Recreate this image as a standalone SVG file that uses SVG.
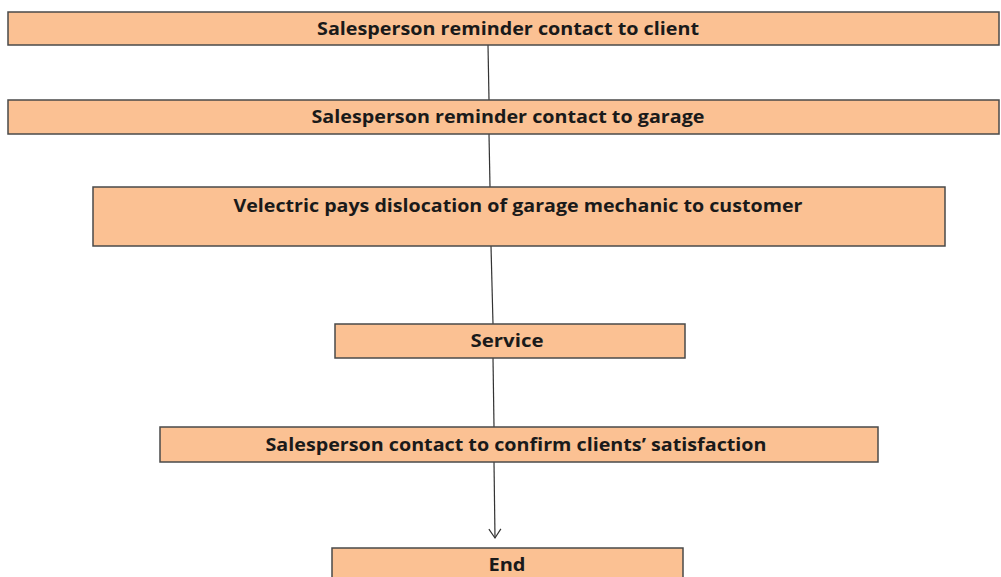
<svg xmlns="http://www.w3.org/2000/svg" width="1001" height="577" viewBox="0 0 1001 577">
  <style>
    .box { fill: #fbc193; stroke: #4a4a4a; stroke-width: 1.5; }
    .lbl { font-family: "Open Sans", "Liberation Sans", sans-serif; font-weight: bold; font-size: 17px; fill: #1a1a1a; text-anchor: middle; }
    .conn { stroke: #333; stroke-width: 1.2; fill: none; }
  </style>
  <defs>
    <marker id="arrow" markerWidth="12" markerHeight="14" refX="10" refY="7" orient="auto" markerUnits="userSpaceOnUse" viewBox="0 0 12 14">
      <path d="M1,1 L10,7 L1,13" fill="none" stroke="#333" stroke-width="1.2"/>
    </marker>
  </defs>
  <rect width="1001" height="577" fill="#ffffff"/>

  <g id="connectors">
    <line class="conn" x1="488" y1="45" x2="489" y2="100"/>
    <line class="conn" x1="489" y1="134" x2="490" y2="187"/>
    <line class="conn" x1="491" y1="246" x2="493" y2="324"/>
    <line class="conn" x1="493" y1="358" x2="494" y2="427"/>
    <line class="conn" x1="494" y1="462" x2="495" y2="538" marker-end="url(#arrow)"/>
  </g>

  <g id="node-client">
    <rect class="box" x="8" y="12" width="991" height="33"/>
    <text class="lbl" x="508" y="35" textLength="382" lengthAdjust="spacingAndGlyphs">Salesperson reminder contact to client</text>
  </g>
  <g id="node-garage">
    <rect class="box" x="8" y="100" width="991" height="34"/>
    <text class="lbl" x="508" y="123" textLength="393" lengthAdjust="spacingAndGlyphs">Salesperson reminder contact to garage</text>
  </g>
  <g id="node-dislocation">
    <rect class="box" x="93" y="187" width="852" height="59"/>
    <text class="lbl" x="518" y="212" textLength="569" lengthAdjust="spacingAndGlyphs">Velectric pays dislocation of garage mechanic to customer</text>
  </g>
  <g id="node-service">
    <rect class="box" x="335" y="324" width="350" height="34"/>
    <text class="lbl" x="507" y="347" textLength="73" lengthAdjust="spacingAndGlyphs">Service</text>
  </g>
  <g id="node-satisfaction">
    <rect class="box" x="160" y="427" width="718" height="35"/>
    <text class="lbl" x="516" y="451" textLength="501" lengthAdjust="spacingAndGlyphs">Salesperson contact to confirm clients’ satisfaction</text>
  </g>
  <g id="node-end">
    <rect class="box" x="332" y="548" width="351" height="40"/>
    <text class="lbl" x="507" y="571" textLength="37" lengthAdjust="spacingAndGlyphs">End</text>
  </g>
</svg>
